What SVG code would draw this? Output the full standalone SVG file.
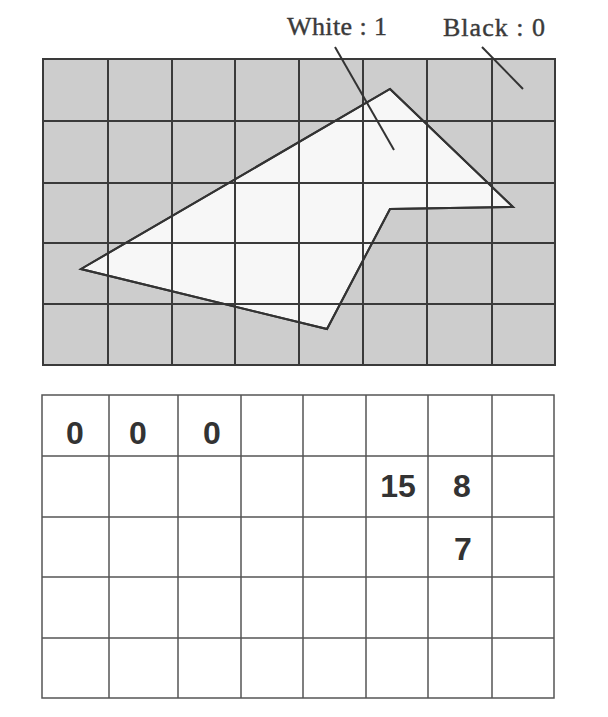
<svg xmlns="http://www.w3.org/2000/svg" width="608" height="717" viewBox="0 0 608 717">
<style>
.lbl{font-family:"Liberation Serif",serif;font-size:26px;fill:#3a3a3a;stroke:#3a3a3a;stroke-width:0.4}
.num{font-family:"Liberation Sans",Arial,sans-serif;font-size:32px;font-weight:bold;fill:#333;text-anchor:middle}
.g1{stroke:#3a3a3a;stroke-width:2;fill:none}
.g2{stroke:#555;stroke-width:1.5;fill:none}
</style>
<rect width="608" height="717" fill="#fff"/>
<g id="image-grid">
<rect x="43" y="59" width="512" height="306" fill="#cdcdcd"/>
<polygon points="390,89 513,207 390,209 327,329 81,269" fill="#f7f7f7" stroke="#333" stroke-width="2"/>
<path class="g1" d="M43,59H555V365H43Z M108,59V365 M172,59V365 M235,59V365 M299,59V365 M363,59V365 M427,59V365 M492,59V365 M43,121H555 M43,183H555 M43,243H555 M43,304H555"/>
<polygon points="390,89 513,207 390,209 327,329 81,269" fill="none" stroke="#333" stroke-width="2"/>
</g>
<g id="labels">
<text class="lbl" x="287" y="35" textLength="100">White : 1</text>
<text class="lbl" x="443" y="36" textLength="102">Black : 0</text>
</g>
<g id="connectors">
<line x1="335" y1="47" x2="394" y2="150" stroke="#333" stroke-width="2"/>
<line x1="482" y1="47" x2="523" y2="89" stroke="#333" stroke-width="2"/>
</g>
<g id="value-grid">
<path class="g2" d="M42,395H554V698H42Z M109,395V698 M178,395V698 M241,395V698 M303,395V698 M366,395V698 M428,395V698 M492,395V698 M42,456H554 M42,517H554 M42,577H554 M42,638H554"/>
<text class="num" x="75" y="444">0</text>
<text class="num" x="138" y="444">0</text>
<text class="num" x="212" y="444">0</text>
<text class="num" x="398" y="497">15</text>
<text class="num" x="462" y="497">8</text>
<text class="num" x="463" y="560">7</text>
</g>
</svg>
